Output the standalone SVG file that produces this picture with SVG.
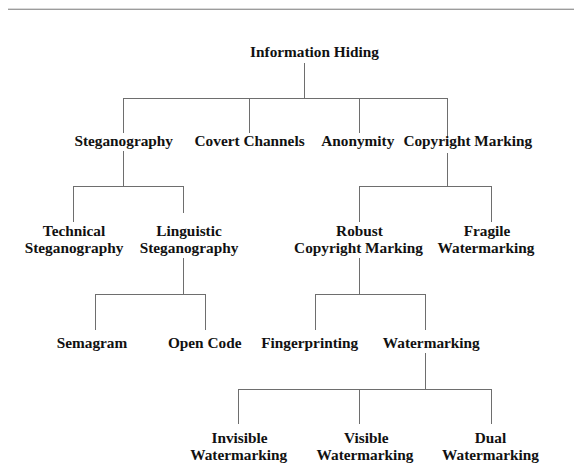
<svg xmlns="http://www.w3.org/2000/svg" width="574" height="464" viewBox="0 0 574 464">
<style>
.t{font-family:"Liberation Serif","Times New Roman",serif;font-weight:bold;font-size:15.3px;fill:#111;text-anchor:middle}
.c line{stroke:#6e6e6e;stroke-width:1;fill:none}
</style>
<rect width="574" height="464" fill="#fff"/>
<line x1="8" y1="8.5" x2="574" y2="8.5" stroke="#d9d9d9" stroke-width="1"/>
<line x1="8" y1="9.5" x2="574" y2="9.5" stroke="#9c9c9c" stroke-width="1"/>
<g class="c" id="connectors">
<line x1="304.5" y1="63" x2="304.5" y2="98.5"/>
<line x1="123" y1="98.5" x2="447.5" y2="98.5"/>
<line x1="123.5" y1="98" x2="123.5" y2="133"/>
<line x1="249.5" y1="98" x2="249.5" y2="133"/>
<line x1="359.5" y1="98" x2="359.5" y2="133"/>
<line x1="447.5" y1="98" x2="447.5" y2="138"/>
<line x1="123.5" y1="151" x2="123.5" y2="187"/>
<line x1="73" y1="186.5" x2="184" y2="186.5"/>
<line x1="73.5" y1="186" x2="73.5" y2="222"/>
<line x1="183.5" y1="186" x2="183.5" y2="213"/>
<line x1="447.5" y1="153" x2="447.5" y2="187"/>
<line x1="359" y1="186.5" x2="492" y2="186.5"/>
<line x1="359.5" y1="186" x2="359.5" y2="222"/>
<line x1="491.5" y1="186" x2="491.5" y2="222"/>
<line x1="183.5" y1="258" x2="183.5" y2="294"/>
<line x1="95" y1="294.5" x2="206" y2="294.5"/>
<line x1="95.5" y1="294" x2="95.5" y2="330"/>
<line x1="205.5" y1="294" x2="205.5" y2="330"/>
<line x1="359.5" y1="258" x2="359.5" y2="294"/>
<line x1="315" y1="294.5" x2="426" y2="294.5"/>
<line x1="315.5" y1="294" x2="315.5" y2="330"/>
<line x1="425.5" y1="294" x2="425.5" y2="330"/>
<line x1="425.5" y1="353" x2="425.5" y2="389"/>
<line x1="238" y1="389.5" x2="492" y2="389.5"/>
<line x1="238.5" y1="389" x2="238.5" y2="424"/>
<line x1="359.5" y1="389" x2="359.5" y2="424"/>
<line x1="491.5" y1="389" x2="491.5" y2="424"/>
</g>
<g id="information-hiding"><text class="t" x="314.5" y="57">Information Hiding</text></g>
<g id="steganography"><text class="t" x="123.7" y="146">Steganography</text></g>
<g id="covert-channels"><text class="t" x="249.6" y="146">Covert Channels</text></g>
<g id="anonymity"><text class="t" x="357.8" y="146">Anonymity</text></g>
<g id="copyright-marking"><text class="t" x="467.8" y="146">Copyright Marking</text></g>
<g id="technical-steganography"><text class="t" x="74" y="235.5">Technical</text><text class="t" x="74" y="252.5">Steganography</text></g>
<g id="linguistic-steganography"><text class="t" x="189" y="235.5">Linguistic</text><text class="t" x="189" y="252.5">Steganography</text></g>
<g id="robust-copyright-marking"><text class="t" x="359.5" y="235.5">Robust</text><text class="t" x="358.5" y="252.5">Copyright Marking</text></g>
<g id="fragile-watermarking"><text class="t" x="487" y="235.5">Fragile</text><text class="t" x="486" y="252.5">Watermarking</text></g>
<g id="semagram"><text class="t" x="92" y="348.3">Semagram</text></g>
<g id="open-code"><text class="t" x="204.7" y="348.3">Open Code</text></g>
<g id="fingerprinting"><text class="t" x="309.7" y="348.3">Fingerprinting</text></g>
<g id="watermarking"><text class="t" x="431.3" y="348.3">Watermarking</text></g>
<g id="invisible-watermarking"><text class="t" x="239.5" y="443">Invisible</text><text class="t" x="238.7" y="460">Watermarking</text></g>
<g id="visible-watermarking"><text class="t" x="366.3" y="443">Visible</text><text class="t" x="365" y="460">Watermarking</text></g>
<g id="dual-watermarking"><text class="t" x="490.5" y="443">Dual</text><text class="t" x="490.5" y="460">Watermarking</text></g>
</svg>
